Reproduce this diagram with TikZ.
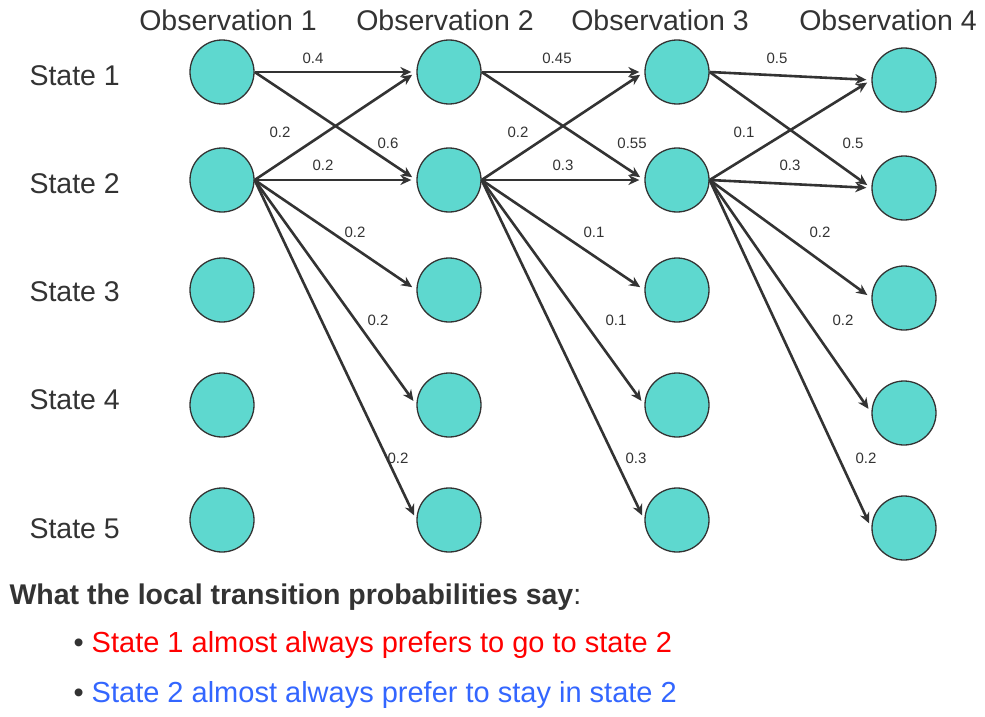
\documentclass[tikz,border=0pt]{standalone}
\usepackage{fontspec}
\setmainfont{Liberation Sans}
\usetikzlibrary{arrows.meta}
\definecolor{turq}{HTML}{5ED8CF}
\definecolor{arr}{HTML}{333333}
\definecolor{bl}{HTML}{3366FF}
\begin{document}
\begin{tikzpicture}[x=1pt,y=-1pt,
  st/.style={circle,draw=arr,line width=1.3pt,fill=turq,minimum size=64pt,inner sep=0pt},
  ar/.style={draw=arr,line width=2.6pt,-{Stealth[length=11pt,width=10pt]},shorten >=5pt},
  pl/.style={font=\fontsize{15}{17}\selectfont,text=arr},
  hd/.style={font=\fontsize{28.5}{32}\selectfont,text=arr}]
\useasboundingbox (0,0) rectangle (985,717);
\foreach \c/\x/\d in {1/222/0,2/449/0,3/677/0,4/904/8}{
  \foreach \r/\y in {1/72,2/180,3/290,4/405,5/520}{
    \node[st] (n\c\r) at (\x,\y+\d) {};
  }
}
\node[hd] (h1) at (228,20) {Observation 1};
\node[hd] (h2) at (445,20) {Observation 2};
\node[hd] (h3) at (660,20) {Observation 3};
\node[hd] (h4) at (888,20) {Observation 4};
\foreach \r/\y in {1/76,2/184,3/292,4/400,5/529}{
  \node[hd,anchor=west] (s\r) at (26,\y) {State \r};
}
\foreach \a/\b in {1/2,2/3,3/4}{
  \draw[ar] (n\a1.east) -- (n\b1.west);
  \draw[ar] (n\a1.east) -- (n\b2.west);
  \foreach \t in {1,2,3,4,5}{
    \draw[ar] (n\a2.east) -- (n\b\t.west);
  }
}
\foreach \x/\y/\t in {313/58/0.4,280/132/0.2,388/143/0.6,323/165/0.2,355/232/0.2,378/320/0.2,398/458/0.2,
557/58/0.45,518/132/0.2,632/143/0.55,563/165/0.3,594/232/0.1,616/320/0.1,636/458/0.3,
777/58/0.5,744/132/0.1,853/143/0.5,790/165/0.3,820/232/0.2,843/320/0.2,866/458/0.2}{
  \node[pl] at (\x,\y) {\t};
}
\node[anchor=west,font=\fontsize{28.5}{32}\selectfont,text=arr] (t0) at (6,597) {\textbf{What the local transition probabilities say}:};
\node[anchor=west,font=\fontsize{29}{33}\selectfont,text=red] (t1) at (70,645) {\textcolor{arr}{•} State 1 almost always prefers to go to state 2};
\node[anchor=west,font=\fontsize{29}{33}\selectfont,text=bl] (t2) at (70,695) {\textcolor{arr}{•} State 2 almost always prefer to stay in state 2};
\end{tikzpicture}
\end{document}
